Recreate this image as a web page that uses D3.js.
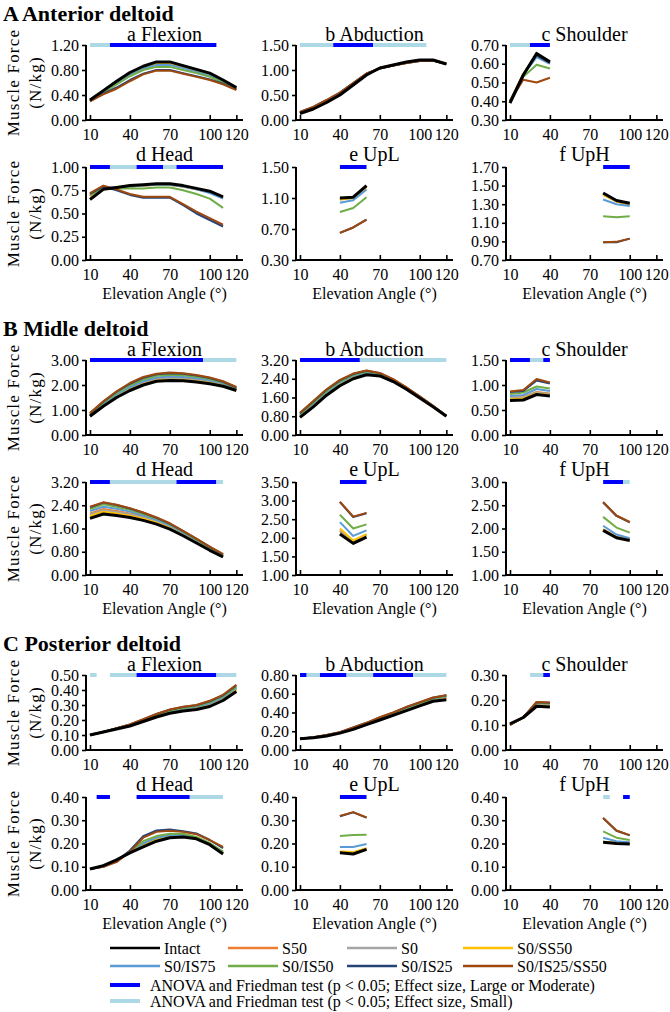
<!DOCTYPE html>
<html><head><meta charset="utf-8">
<script src="https://cdn.jsdelivr.net/npm/d3@7"></script>
<style>body{margin:0;background:#fff} svg{display:block} svg text{font-family:"Liberation Serif","Times New Roman",Times,serif !important}</style>
</head><body><svg id="c" width="670" height="1012" font-family="Liberation Serif"></svg>
<script>
// ---------- data ----------
const seriesNames = ["Intact","S50","S0","S0/SS50","S0/IS75","S0/IS50","S0/IS25","S0/IS25/SS50"];
const sectionTitles = ["A Anterior deltoid","B Midle deltoid","C Posterior deltoid"];
const panelTitles = ["a Flexion","b Abduction","c Shoulder","d Head","e UpL","f UpH"];
const xTicks = [10,40,70,100,120];
const anglesFlex = [10,20,30,40,50,60,70,80,90,100,110,120];
const anglesAbd = [10,20,30,40,50,60,70,80,90,100,110,120];
const anglesShoulder = [10,20,30,40];
const anglesHead = [10,20,30,40,50,60,70,80,90,100,110];
const anglesUpL = [40,50,60];
const anglesUpH = [80,90,100];

// y ticks per panel
const antTicks = [[0,0.4,0.8,1.2],[0,0.5,1,1.5],[0.3,0.4,0.5,0.6,0.7],[0,0.25,0.5,0.75,1],[0.3,0.7,1.1,1.5],[0.7,0.9,1.1,1.3,1.5,1.7]];
const midTicks = [[0,1,2,3],[0,0.8,1.6,2.4,3.2],[0,0.5,1,1.5],[0,0.8,1.6,2.4,3.2],[1,1.5,2,2.5,3,3.5],[1,1.5,2,2.5,3]];
const postTicks = [[0,0.1,0.2,0.3,0.4,0.5],[0,0.2,0.4,0.6,0.8],[0,0.1,0.2,0.3],[0,0.1,0.2,0.3,0.4],[0,0.1,0.2,0.3,0.4],[0,0.1,0.2,0.3,0.4]];

// series order: Intact, S50, S0, S0/SS50, S0/IS75, S0/IS50, S0/IS25, S0/IS25/SS50
const antFlexion = [
 [0.32,0.47,0.62,0.76,0.86,0.93,0.93,0.87,0.81,0.75,0.64,0.52],
 [0.32,0.46,0.61,0.75,0.85,0.92,0.92,0.86,0.80,0.74,0.63,0.51],
 [0.32,0.46,0.60,0.74,0.84,0.91,0.91,0.85,0.79,0.73,0.62,0.51],
 [0.32,0.46,0.60,0.74,0.84,0.90,0.90,0.85,0.79,0.73,0.62,0.51],
 [0.31,0.45,0.59,0.72,0.82,0.88,0.88,0.83,0.77,0.71,0.61,0.50],
 [0.31,0.44,0.57,0.70,0.80,0.85,0.85,0.80,0.75,0.69,0.60,0.50],
 [0.30,0.42,0.52,0.64,0.74,0.80,0.80,0.75,0.70,0.65,0.58,0.49],
 [0.30,0.41,0.50,0.62,0.73,0.79,0.79,0.74,0.69,0.64,0.57,0.48]];
const antAbduction = [
 [0.13,0.22,0.35,0.50,0.70,0.90,1.04,1.10,1.16,1.20,1.20,1.12],
 [0.14,0.23,0.36,0.51,0.71,0.91,1.04,1.10,1.16,1.20,1.20,1.12],
 [0.14,0.23,0.37,0.52,0.72,0.91,1.04,1.10,1.15,1.19,1.20,1.12],
 [0.14,0.23,0.37,0.52,0.72,0.91,1.04,1.10,1.15,1.19,1.20,1.12],
 [0.15,0.24,0.38,0.53,0.72,0.92,1.04,1.09,1.15,1.19,1.19,1.12],
 [0.15,0.25,0.39,0.54,0.73,0.92,1.03,1.09,1.14,1.18,1.19,1.12],
 [0.16,0.26,0.40,0.55,0.74,0.93,1.03,1.09,1.14,1.18,1.19,1.12],
 [0.16,0.26,0.40,0.55,0.74,0.93,1.03,1.09,1.14,1.18,1.19,1.12]];
const antShoulder = [
 [0.39,0.54,0.655,0.61],
 [0.40,0.545,0.65,0.61],
 [0.40,0.545,0.645,0.605],
 [0.40,0.545,0.645,0.605],
 [0.40,0.54,0.635,0.60],
 [0.40,0.53,0.595,0.575],
 [0.40,0.54,0.645,0.605],
 [0.40,0.515,0.50,0.525]];
const antHead = [
 [0.65,0.76,0.78,0.80,0.81,0.82,0.82,0.80,0.77,0.74,0.68],
 [0.69,0.77,0.78,0.79,0.80,0.81,0.81,0.79,0.76,0.73,0.67],
 [0.69,0.77,0.78,0.79,0.80,0.81,0.81,0.79,0.76,0.73,0.67],
 [0.69,0.77,0.78,0.79,0.80,0.81,0.81,0.79,0.76,0.73,0.67],
 [0.70,0.78,0.78,0.79,0.80,0.81,0.81,0.79,0.76,0.72,0.66],
 [0.70,0.77,0.77,0.77,0.77,0.78,0.78,0.75,0.71,0.66,0.56],
 [0.71,0.79,0.75,0.70,0.67,0.67,0.67,0.59,0.50,0.43,0.36],
 [0.72,0.80,0.76,0.71,0.68,0.68,0.68,0.60,0.52,0.45,0.38]];
const antUpL = [
 [1.10,1.11,1.26],[1.09,1.10,1.25],[1.08,1.10,1.24],[1.08,1.10,1.24],
 [1.04,1.07,1.21],[0.92,0.97,1.11],[0.65,0.72,0.82],[0.65,0.72,0.82]];
const antUpH = [
 [1.42,1.34,1.31],[1.41,1.33,1.30],[1.40,1.33,1.30],[1.40,1.33,1.30],
 [1.35,1.30,1.28],[1.17,1.16,1.17],[0.89,0.89,0.93],[0.89,0.895,0.93]];

const midFlexion = [
 [0.75,1.15,1.50,1.78,2.00,2.15,2.18,2.17,2.12,2.05,1.95,1.78],
 [0.79,1.22,1.58,1.88,2.10,2.25,2.28,2.27,2.22,2.14,2.03,1.84],
 [0.78,1.20,1.56,1.85,2.07,2.22,2.25,2.24,2.19,2.11,2.00,1.82],
 [0.76,1.17,1.52,1.81,2.03,2.18,2.21,2.20,2.15,2.08,1.97,1.79],
 [0.81,1.25,1.62,1.92,2.15,2.30,2.34,2.32,2.27,2.19,2.07,1.86],
 [0.84,1.29,1.67,1.99,2.22,2.37,2.41,2.39,2.33,2.24,2.10,1.88],
 [0.87,1.33,1.73,2.05,2.29,2.43,2.47,2.45,2.38,2.28,2.13,1.90],
 [0.88,1.35,1.75,2.08,2.32,2.45,2.50,2.47,2.40,2.30,2.15,1.92]];
const midAbduction = [
 [0.75,1.20,1.70,2.10,2.40,2.57,2.52,2.28,1.95,1.58,1.20,0.80],
 [0.82,1.29,1.79,2.19,2.49,2.64,2.57,2.32,1.98,1.61,1.22,0.81],
 [0.80,1.27,1.77,2.17,2.47,2.62,2.56,2.31,1.97,1.60,1.21,0.81],
 [0.78,1.24,1.74,2.14,2.44,2.60,2.54,2.30,1.96,1.59,1.21,0.80],
 [0.85,1.33,1.83,2.23,2.53,2.67,2.59,2.34,1.99,1.62,1.23,0.81],
 [0.89,1.38,1.88,2.28,2.57,2.71,2.62,2.36,2.01,1.63,1.24,0.82],
 [0.93,1.43,1.93,2.33,2.60,2.74,2.64,2.37,2.02,1.64,1.25,0.82],
 [0.95,1.45,1.95,2.35,2.62,2.75,2.65,2.38,2.03,1.65,1.25,0.82]];
const midShoulder = [
 [0.69,0.70,0.81,0.78],[0.75,0.76,0.86,0.83],[0.74,0.75,0.85,0.82],[0.72,0.73,0.83,0.80],
 [0.78,0.80,0.92,0.88],[0.82,0.85,0.97,0.93],[0.86,0.88,1.09,1.03],[0.87,0.90,1.12,1.05]];
const midHead = [
 [1.95,2.10,2.05,1.98,1.88,1.75,1.58,1.35,1.10,0.85,0.62],
 [2.12,2.27,2.20,2.12,2.01,1.86,1.68,1.43,1.17,0.91,0.66],
 [2.08,2.23,2.17,2.09,1.98,1.84,1.66,1.41,1.15,0.89,0.65],
 [2.03,2.18,2.12,2.04,1.94,1.80,1.62,1.38,1.13,0.87,0.64],
 [2.20,2.35,2.28,2.18,2.05,1.90,1.71,1.46,1.20,0.93,0.68],
 [2.27,2.43,2.35,2.24,2.10,1.94,1.75,1.49,1.22,0.95,0.70],
 [2.33,2.49,2.41,2.29,2.14,1.97,1.77,1.51,1.24,0.97,0.71],
 [2.35,2.50,2.42,2.30,2.15,1.98,1.78,1.52,1.25,0.98,0.72]];
const midUpL = [
 [2.10,1.85,2.02],[2.18,1.90,2.07],[2.20,1.91,2.08],[2.25,1.93,2.10],
 [2.42,2.05,2.20],[2.62,2.25,2.36],[2.96,2.56,2.66],[2.97,2.57,2.67]];
const midUpH = [
 [1.96,1.80,1.74],[1.98,1.82,1.76],[1.97,1.81,1.75],[1.98,1.82,1.76],
 [2.06,1.87,1.79],[2.25,2.02,1.91],[2.56,2.27,2.13],[2.57,2.28,2.14]];

const postFlexion = [
 [0.10,0.12,0.14,0.16,0.19,0.22,0.245,0.26,0.27,0.29,0.33,0.39],
 [0.10,0.12,0.142,0.165,0.196,0.228,0.255,0.272,0.284,0.305,0.345,0.41],
 [0.10,0.12,0.142,0.165,0.195,0.227,0.253,0.27,0.282,0.302,0.342,0.405],
 [0.10,0.12,0.141,0.163,0.193,0.224,0.25,0.266,0.277,0.297,0.337,0.40],
 [0.10,0.12,0.143,0.167,0.198,0.23,0.257,0.275,0.288,0.31,0.35,0.415],
 [0.10,0.12,0.144,0.168,0.20,0.235,0.262,0.28,0.293,0.318,0.358,0.42],
 [0.10,0.12,0.145,0.17,0.204,0.24,0.268,0.286,0.298,0.325,0.365,0.43],
 [0.10,0.12,0.145,0.17,0.205,0.24,0.27,0.288,0.30,0.328,0.368,0.435]];
const postAbduction = [
 [0.12,0.13,0.15,0.18,0.22,0.27,0.32,0.37,0.42,0.47,0.52,0.535],
 [0.12,0.133,0.155,0.186,0.23,0.28,0.335,0.385,0.44,0.49,0.54,0.56],
 [0.12,0.133,0.155,0.185,0.228,0.278,0.333,0.383,0.437,0.487,0.537,0.557],
 [0.12,0.132,0.153,0.183,0.225,0.275,0.328,0.378,0.43,0.48,0.53,0.55],
 [0.12,0.134,0.157,0.187,0.233,0.283,0.34,0.39,0.447,0.497,0.547,0.57],
 [0.12,0.134,0.158,0.188,0.235,0.285,0.343,0.393,0.452,0.502,0.552,0.575],
 [0.12,0.135,0.16,0.19,0.24,0.29,0.348,0.398,0.458,0.508,0.558,0.583],
 [0.12,0.135,0.16,0.19,0.24,0.29,0.35,0.40,0.46,0.51,0.56,0.585]];
const postShoulder = [
 [0.105,0.13,0.175,0.172],[0.103,0.13,0.185,0.183],[0.103,0.13,0.183,0.181],[0.104,0.13,0.18,0.178],
 [0.102,0.13,0.187,0.185],[0.101,0.13,0.189,0.187],[0.10,0.13,0.191,0.189],[0.10,0.13,0.192,0.19]];
const postHead = [
 [0.09,0.105,0.13,0.16,0.185,0.21,0.225,0.228,0.22,0.195,0.155],
 [0.09,0.104,0.127,0.163,0.20,0.225,0.235,0.235,0.225,0.20,0.16],
 [0.09,0.104,0.127,0.163,0.198,0.222,0.233,0.233,0.224,0.199,0.16],
 [0.09,0.104,0.128,0.162,0.193,0.218,0.23,0.232,0.223,0.198,0.158],
 [0.09,0.103,0.126,0.165,0.20,0.225,0.235,0.235,0.225,0.20,0.16],
 [0.09,0.102,0.124,0.165,0.21,0.232,0.242,0.242,0.228,0.202,0.165],
 [0.09,0.10,0.125,0.17,0.232,0.256,0.26,0.253,0.243,0.215,0.18],
 [0.09,0.10,0.12,0.165,0.225,0.25,0.255,0.25,0.24,0.215,0.185]];
const postUpL = [
 [0.16,0.155,0.175],[0.163,0.16,0.178],[0.163,0.16,0.178],[0.166,0.163,0.18],
 [0.185,0.185,0.198],[0.232,0.237,0.238],[0.317,0.334,0.311],[0.318,0.335,0.312]];
const postUpH = [
 [0.205,0.20,0.198],[0.207,0.202,0.20],[0.207,0.202,0.20],[0.208,0.203,0.201],
 [0.225,0.21,0.205],[0.252,0.225,0.215],[0.31,0.255,0.235],[0.31,0.256,0.236]];

// significance bars: [from angle, to angle, 1 = large/moderate, 0 = small]
const antBars = [
 [[10,25,0],[25,105,1]],
 [[10,35,0],[35,65,1],[65,105,0]],
 [[10,25,0],[25,40,1]],
 [[10,25,1],[25,45,0],[45,65,1],[65,75,0],[75,110,1]],
 [[40,60,1]],
 [[80,100,1]]];
const midBars = [
 [[10,95,1],[95,120,0]],
 [[10,55,1],[55,120,0]],
 [[10,25,1],[25,35,0],[35,40,1]],
 [[10,25,1],[25,75,0],[75,105,1],[105,110,0]],
 [[40,60,1]],
 [[80,95,1],[95,100,0]]];
const postBars = [
 [[10,15,0],[25,45,0],[45,105,1],[105,120,0]],
 [[10,15,1],[15,25,0],[25,45,1],[45,65,0],[65,95,1],[95,120,0]],
 [[25,35,0],[35,40,1]],
 [[15,25,1],[45,85,1],[85,110,0]],
 [[40,60,1]],
 [[80,85,0],[95,100,1]]];

// ---------- style ----------
const FONT = "'Liberation Serif', 'Times New Roman', Times, serif";
const colors = ["#000000","#ED7D31","#A5A5A5","#FFC000","#5B9BD5","#70AD47","#264478","#9E480E"];
const barColors = ["#ADD8E6","#0000FF"];
const drawOrder = [1,2,3,4,5,6,7,0];

const svg = d3.select("#c");
const colX = [86, 296, 506];
const plotW = 157;
const secTop = [13, 328, 643];
const rowGeom = [{top:32,h:75},{top:154,h:93}];

const angleSets = [anglesFlex, anglesAbd, anglesShoulder, anglesHead, anglesUpL, anglesUpH];
const sections = [
 {ticks: antTicks, data:[antFlexion,antAbduction,antShoulder,antHead,antUpL,antUpH], bars: antBars},
 {ticks: midTicks, data:[midFlexion,midAbduction,midShoulder,midHead,midUpL,midUpH], bars: midBars},
 {ticks: postTicks, data:[postFlexion,postAbduction,postShoulder,postHead,postUpL,postUpH], bars: postBars}];

function txt(sel){ return sel.attr("font-family", FONT).attr("fill","#000"); }

sections.forEach((sec, si) => {
  const T = secTop[si];
  txt(svg.append("text")).attr("x",3).attr("y",T).attr("dy","0.35em")
    .attr("font-size",22).attr("font-weight","bold").text(sectionTitles[si]);
  for (let p = 0; p < 6; p++) {
    const row = Math.floor(p/3), col = p%3;
    const top = T + rowGeom[row].top, h = rowGeom[row].h, x0 = colX[col];
    const ticks = sec.ticks[p];
    const x = d3.scaleLinear().domain([7,125]).range([x0, x0+plotW]);
    const y = d3.scaleLinear().domain([ticks[0], ticks[ticks.length-1]]).range([top+h, top]);
    const g = svg.append("g");
    // title
    txt(g.append("text")).attr("x", x0+plotW/2).attr("y", top - (row===0?10:12)).attr("dy","0.32em")
      .attr("text-anchor","middle").attr("font-size",20).text(panelTitles[p]);
    // y axis
    const ya = g.append("g").attr("transform",`translate(${x0},0)`)
      .call(d3.axisLeft(y).tickValues(ticks).tickFormat(d3.format(".2f")).tickSize(4).tickPadding(3));
    // x axis
    const xa = g.append("g").attr("transform",`translate(0,${top+h})`)
      .call(d3.axisBottom(x).tickValues(xTicks).tickFormat(d3.format("d")).tickSize(-5).tickPadding(9));
    [ya, xa].forEach(a => {
      a.attr("font-family", FONT);
      a.select(".domain").attr("stroke","#000").attr("stroke-width",2);
      a.selectAll(".tick line").attr("stroke","#000").attr("stroke-width",1.6);
      a.selectAll("text").attr("font-size",16).attr("font-family",FONT).attr("fill","#000");
    });
    ya.select(".domain").attr("d", `M0,${top}V${top+h+1}`);
    xa.select(".domain").attr("d", `M${x0-1},0H${x0+plotW}`);
    // y label (first column)
    if (col === 0) {
      const cy = top + h/2;
      txt(g.append("text")).attr("transform",`translate(13,${cy}) rotate(-90)`)
        .attr("text-anchor","middle").attr("dy","0.35em").attr("font-size",17).attr("letter-spacing",1.2).text("Muscle Force");
      txt(g.append("text")).attr("transform",`translate(35,${cy}) rotate(-90)`)
        .attr("text-anchor","middle").attr("dy","0.35em").attr("font-size",17).attr("letter-spacing",1.2).text("(N/kg)");
    }
    if (row === 1) {
      txt(g.append("text")).attr("x", x0+plotW/2).attr("y", T+280).attr("dy","0.35em")
        .attr("text-anchor","middle").attr("font-size",16).text("Elevation Angle (°)");
    }
    // significance bars
    sec.bars[p].forEach(b => {
      g.append("line").attr("x1",x(b[0])).attr("x2",x(b[1])).attr("y1",top).attr("y2",top)
        .attr("stroke",barColors[b[2]]).attr("stroke-width",4);
    });
    // lines
    const xs = angleSets[p];
    const line = d3.line().x((d,i)=>x(xs[i])).y(d=>y(d));
    drawOrder.forEach(k => {
      g.append("path").attr("d", line(sec.data[p][k])).attr("fill","none")
        .attr("stroke",colors[k]).attr("stroke-width", k===0?3:2).attr("stroke-linejoin","round");
    });
  }
});

// legend
const legX = [110, 228, 347, 463];
const legY = [948, 966];
seriesNames.forEach((n,i) => {
  const lx = legX[i%4], ly = legY[Math.floor(i/4)];
  svg.append("line").attr("x1",lx).attr("x2",lx+50).attr("y1",ly).attr("y2",ly)
    .attr("stroke",colors[i]).attr("stroke-width",2.5);
  txt(svg.append("text")).attr("x",lx+54).attr("y",ly).attr("dy","0.35em").attr("font-size",16).text(n);
});
const barLegend = ["ANOVA and Friedman test (p < 0.05; Effect size, Large or Moderate)","ANOVA and Friedman test (p < 0.05; Effect size, Small)"];
[985, 1001].forEach((ly,i) => {
  svg.append("line").attr("x1",110).attr("x2",140).attr("y1",ly).attr("y2",ly)
    .attr("stroke",barColors[1-i]).attr("stroke-width",4);
  txt(svg.append("text")).attr("x",150).attr("y",ly).attr("dy","0.35em").attr("font-size",16).text(barLegend[i]);
});
</script></body></html>
